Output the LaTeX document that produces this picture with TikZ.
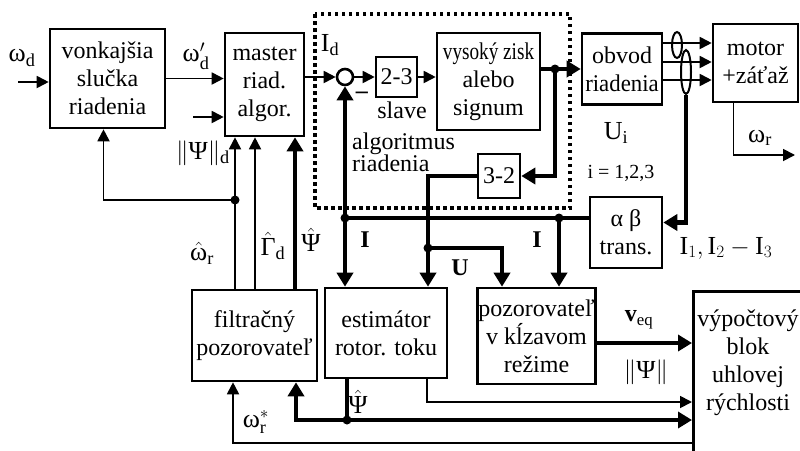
\documentclass[tikz,border=0pt]{standalone}
\usepackage{amsmath}
\usepackage{fontspec}
\setmainfont{Liberation Serif}
\usetikzlibrary{arrows.meta,positioning,calc,shapes.geometric}

\begin{document}
\begin{tikzpicture}[x=1pt, y=-1pt,
  font=\fontsize{24}{28}\selectfont,
  blok/.style={draw, line width=2.6pt, align=center, inner sep=1pt},
  tenka/.style={line width=1.8pt, -{Triangle[length=12pt,width=12pt]}},
  hruba/.style={line width=4.8pt, -{Triangle[length=14pt,width=16pt]}},
  bod/.style={circle, fill, inner sep=0pt, minimum size=9pt},
  lab/.style={inner sep=0pt},
  vlab/.style={inner sep=0pt, font=\fontsize{26}{28}\selectfont}]
  \useasboundingbox (0,0) rectangle (800,450);

  % bloky
  \node (vonk) [blok, minimum width=115pt, minimum height=99pt] at (107.5,78.5) {vonkajšia\\slučka\\riadenia};
  \node (master) [blok, minimum width=79pt, minimum height=103pt] at (264.5,84.5) {master\\riad.\\algor.};
  \node (sum) [circle, draw, line width=2.6pt, minimum size=16pt, inner sep=0pt] at (345,77) {};
  \node (b23) [blok, minimum width=41pt, minimum height=40pt] at (396.5,77) {2-3};
  \node (signum) [blok, minimum width=103pt, minimum height=97pt] at (488.5,81.5) {\scalebox{0.8}[1]{vysoký zisk}\\alebo\\signum};
  \node (b32) [blok, minimum width=42pt, minimum height=44pt] at (499,176) {3-2};
  \node (obvod) [blok, minimum width=80pt, minimum height=71pt] at (622,69) {obvod\\\scalebox{0.95}[1]{riadenia}};
  \node (motor) [blok, minimum width=85pt, minimum height=78pt] at (755.5,63) {motor\\+záťaž};
  \node (abtrans) [blok, minimum width=72pt, minimum height=71pt] at (626,232.5) {α β\\trans.};
  \node (filtr) [blok, minimum width=125pt, minimum height=91pt] at (254.5,335.5) {filtračný\\pozorovateľ};
  \node (estim) [blok, minimum width=122pt, minimum height=90pt] at (386,333) {estimátor\\rotor. toku};
  \node (pozor) [blok, minimum width=117pt, minimum height=96pt] at (536.5,336) {pozorovateľ\\v kĺzavom\\režime};
  \node (vypoc) [blok, minimum width=130pt, minimum height=200pt, anchor=north west] at (692,290) {};
  \node (vypoctxt) [lab, align=center] at (748,363) {výpočtový\\blok\\uhlovej\\rýchlosti};

  % slave cast
  \draw[line width=3.5pt, dash pattern=on 3.5pt off 3.5pt] (315,14) rectangle (570,208);

  % body
  \coordinate (wd) at (18,82);
  \coordinate (psid) at (193,117);
  \coordinate (jw) at (235,200);
  \coordinate (cg) at (255,0);
  \coordinate (cp) at (295,0);
  \coordinate (ji) at (345,218);
  \coordinate (ji2) at (559,218);
  \coordinate (ju) at (428,248);
  \coordinate (ju2) at (502,248);
  \coordinate (jb) at (555,69);
  \coordinate (wr) at (795,155);
  \coordinate (je) at (347,420);
  \coordinate (jf) at (296,420);
  \coordinate (jt) at (427,402);
  \coordinate (jo) at (233,443);
  \coordinate (veq) at ([yshift=-7pt]pozor.east);

  % snimace prudu
  \node (sens1) [ellipse, draw, line width=2pt, minimum width=10pt, minimum height=26pt, inner sep=0pt] at (677,45) {};
  \node (sens2) [ellipse, draw, line width=2pt, minimum width=10pt, minimum height=44pt, inner sep=0pt] at (686,72) {};

  % spoje
  \draw[tenka] (wd) -- (vonk.west |- wd);
  \draw[tenka] (vonk.east) -- (master.west |- vonk.east);
  \draw[tenka] (psid) -- (master.west |- psid);
  \draw[tenka] (master.east |- sum) -- (sum.west);
  \draw[tenka] (sum.east) -- (b23.west);
  \draw[tenka] (b23.east) -- (signum.west |- b23);
  \draw[hruba] (signum.east |- obvod) -- (obvod.west);
  \draw[hruba] (jb) |- (b32.east);
  \draw[hruba] (b32.west) -| (estim.north -| ju);
  \draw[hruba] (ju) -| (pozor.north -| ju2);
  \draw[hruba] (ji) -- (sum.south);
  \draw[hruba] (ji) -- (estim.north -| ji);
  \draw[line width=4.8pt] (ji) -- (abtrans.west |- ji);
  \draw[hruba] (ji2) -- (pozor.north -| ji2);
  \foreach \dy [count=\k] in {26,7,-11} {
    \coordinate (o\k) at ([yshift=\dy pt]obvod.east);
    \draw[tenka] (o\k) -- (motor.west |- o\k);
  }
  \draw[hruba] (sens2.south) |- ([yshift=10pt]abtrans.east);
  \draw[tenka] ([xshift=-22pt]motor.south) |- (wr);

  \draw[tenka] (filtr.north -| jw) -- (master.south -| jw);
  \draw[tenka] (filtr.north -| cg) -- (master.south -| cg);
  \draw[hruba] (filtr.north -| cp) -- (master.south -| cp);
  \draw[tenka] (jw) -| ([xshift=-4pt]vonk.south);

  \draw[line width=4.8pt] (estim.south -| je) -- (je);
  \draw[hruba] (je) -| (filtr.south -| jf);
  \draw[hruba] (je) -- (vypoc.west |- je);
  \draw[tenka] (estim.south -| jt) |- (vypoc.west |- jt);
  \draw[tenka] (vypoc.west |- jo) -| (filtr.south -| jo);
  \draw[hruba] (veq) -- (vypoc.west |- veq);

  \foreach \j in {jw,ji,ji2,ju,jb,je}
    \node[bod] at (\j) {};

  % popisy
  \node (lwd) [vlab] at (22,58) {$\text{ω}_{\mathrm{d}}$};
  \node (lwd2) [vlab] at (196,56) {$\text{ω}'_{\mathrm{d}}$};
  \node (lpsid) [vlab] at (203,153) {$\|\text{Ψ}\|_{\mathrm{d}}$};
  \node (lid) [vlab] at (330,45) {$\text{I}_{\mathrm{d}}$};
  \node (lminus) [lab] at (362,95) {\textbf{–}};
  \node (lslave) [lab] at (402,110) {slave};
  \node (lalg) [lab, align=left, anchor=west, font=\fontsize{24}{22}\selectfont] at (352,152) {algoritmus\\riadenia};
  \node (lui) [vlab] at (616,133) {$\text{U}_{\mathrm{i}}$};
  \node (li) [lab, font=\fontsize{20}{24}\selectfont] at (621,173) {i = 1,2,3};
  \node (lwr) [vlab] at (760,138) {$\text{ω}_{\mathrm{r}}$};
  \node (li123) [vlab] at (726,248) {$\text{I}_1, \text{I}_2 - \text{I}_3$};
  \node (lwrh) [vlab] at (202,253) {$\hat{\text{ω}}_{\mathrm{r}}$};
  \node (lgd) [vlab] at (273,246) {$\hat{\text{Γ}}_{\mathrm{d}}$};
  \node (lpsih) [vlab] at (311,240) {$\hat{\text{Ψ}}$};
  \node (lI1) [lab] at (365,240) {\textbf{I}};
  \node (lI2) [lab] at (537,240) {\textbf{I}};
  \node (lU) [lab] at (460,268) {\textbf{U}};
  \node (lpsie) [vlab] at (358,402) {$\hat{\text{Ψ}}$};
  \node (lws) [vlab] at (256,422) {$\text{ω}^{*}_{\mathrm{r}}$};
  \node (lveq) [lab] at (639,320) {$\textbf{v}_{\mathrm{eq}}$};
  \node (lpsi) [vlab] at (646,372) {$\|\text{Ψ}\|$};
\end{tikzpicture}
\end{document}
